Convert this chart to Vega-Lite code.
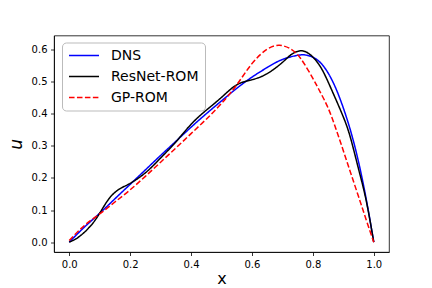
{
  "$schema": "https://vega.github.io/schema/vega-lite/v6.json",
  "autosize": "none",
  "padding": {"left": 54, "top": 35.5, "right": 43, "bottom": 36},
  "width": 335,
  "height": 216.5,
  "background": "white",
  "config": {
    "view": {"stroke": "black", "strokeWidth": 0.8},
    "font": "DejaVu Sans",
    "axis": {
      "grid": false,
      "domainColor": "black",
      "domainWidth": 0.8,
      "tickColor": "black",
      "tickWidth": 0.8,
      "tickSize": 3.5,
      "labelPadding": 3.5,
      "labelFontSize": 10,
      "labelColor": "black",
      "labelFont": "DejaVu Sans",
      "titleFont": "DejaVu Sans",
      "titleFontSize": 16,
      "titleFontWeight": "normal",
      "titleColor": "black"
    }
  },
  "data": {
    "values": [
      {"series": "DNS", "x": 0.0, "u": 0.0},
      {"series": "DNS", "x": 0.05, "u": 0.047},
      {"series": "DNS", "x": 0.1, "u": 0.09},
      {"series": "DNS", "x": 0.15, "u": 0.135},
      {"series": "DNS", "x": 0.2, "u": 0.18},
      {"series": "DNS", "x": 0.25, "u": 0.225},
      {"series": "DNS", "x": 0.3, "u": 0.27},
      {"series": "DNS", "x": 0.35, "u": 0.314},
      {"series": "DNS", "x": 0.4, "u": 0.358},
      {"series": "DNS", "x": 0.45, "u": 0.40},
      {"series": "DNS", "x": 0.5, "u": 0.44},
      {"series": "DNS", "x": 0.55, "u": 0.479},
      {"series": "DNS", "x": 0.6, "u": 0.514},
      {"series": "DNS", "x": 0.65, "u": 0.544},
      {"series": "DNS", "x": 0.7, "u": 0.569},
      {"series": "DNS", "x": 0.75, "u": 0.582},
      {"series": "DNS", "x": 0.775, "u": 0.583},
      {"series": "DNS", "x": 0.8, "u": 0.576},
      {"series": "DNS", "x": 0.825, "u": 0.559},
      {"series": "DNS", "x": 0.85, "u": 0.527},
      {"series": "DNS", "x": 0.875, "u": 0.48},
      {"series": "DNS", "x": 0.9, "u": 0.418},
      {"series": "DNS", "x": 0.925, "u": 0.343},
      {"series": "DNS", "x": 0.95, "u": 0.25},
      {"series": "DNS", "x": 0.975, "u": 0.135},
      {"series": "DNS", "x": 1.0, "u": 0.0},
      {"series": "ResNet-ROM", "x": 0.0, "u": 0.0},
      {"series": "ResNet-ROM", "x": 0.025, "u": 0.012},
      {"series": "ResNet-ROM", "x": 0.05, "u": 0.031},
      {"series": "ResNet-ROM", "x": 0.075, "u": 0.056},
      {"series": "ResNet-ROM", "x": 0.1, "u": 0.09},
      {"series": "ResNet-ROM", "x": 0.125, "u": 0.128},
      {"series": "ResNet-ROM", "x": 0.15, "u": 0.155},
      {"series": "ResNet-ROM", "x": 0.175, "u": 0.171},
      {"series": "ResNet-ROM", "x": 0.2, "u": 0.183},
      {"series": "ResNet-ROM", "x": 0.25, "u": 0.216},
      {"series": "ResNet-ROM", "x": 0.3, "u": 0.262},
      {"series": "ResNet-ROM", "x": 0.35, "u": 0.312},
      {"series": "ResNet-ROM", "x": 0.4, "u": 0.367},
      {"series": "ResNet-ROM", "x": 0.45, "u": 0.411},
      {"series": "ResNet-ROM", "x": 0.5, "u": 0.451},
      {"series": "ResNet-ROM", "x": 0.55, "u": 0.49},
      {"series": "ResNet-ROM", "x": 0.6, "u": 0.506},
      {"series": "ResNet-ROM", "x": 0.65, "u": 0.525},
      {"series": "ResNet-ROM", "x": 0.7, "u": 0.56},
      {"series": "ResNet-ROM", "x": 0.73, "u": 0.585},
      {"series": "ResNet-ROM", "x": 0.76, "u": 0.596},
      {"series": "ResNet-ROM", "x": 0.79, "u": 0.585},
      {"series": "ResNet-ROM", "x": 0.825, "u": 0.546},
      {"series": "ResNet-ROM", "x": 0.86, "u": 0.478},
      {"series": "ResNet-ROM", "x": 0.9, "u": 0.39},
      {"series": "ResNet-ROM", "x": 0.925, "u": 0.32},
      {"series": "ResNet-ROM", "x": 0.95, "u": 0.228},
      {"series": "ResNet-ROM", "x": 0.975, "u": 0.13},
      {"series": "ResNet-ROM", "x": 1.0, "u": 0.0},
      {"series": "GP-ROM", "x": 0.0, "u": 0.005},
      {"series": "GP-ROM", "x": 0.05, "u": 0.052},
      {"series": "GP-ROM", "x": 0.1, "u": 0.088},
      {"series": "GP-ROM", "x": 0.15, "u": 0.125},
      {"series": "GP-ROM", "x": 0.2, "u": 0.163},
      {"series": "GP-ROM", "x": 0.25, "u": 0.205},
      {"series": "GP-ROM", "x": 0.3, "u": 0.249},
      {"series": "GP-ROM", "x": 0.35, "u": 0.293},
      {"series": "GP-ROM", "x": 0.4, "u": 0.338},
      {"series": "GP-ROM", "x": 0.45, "u": 0.383},
      {"series": "GP-ROM", "x": 0.5, "u": 0.432},
      {"series": "GP-ROM", "x": 0.55, "u": 0.49},
      {"series": "GP-ROM", "x": 0.6, "u": 0.556},
      {"series": "GP-ROM", "x": 0.65, "u": 0.601},
      {"series": "GP-ROM", "x": 0.69, "u": 0.613},
      {"series": "GP-ROM", "x": 0.725, "u": 0.603},
      {"series": "GP-ROM", "x": 0.76, "u": 0.572},
      {"series": "GP-ROM", "x": 0.8, "u": 0.51},
      {"series": "GP-ROM", "x": 0.825, "u": 0.466},
      {"series": "GP-ROM", "x": 0.85, "u": 0.418},
      {"series": "GP-ROM", "x": 0.875, "u": 0.355},
      {"series": "GP-ROM", "x": 0.9, "u": 0.285},
      {"series": "GP-ROM", "x": 0.925, "u": 0.213},
      {"series": "GP-ROM", "x": 0.95, "u": 0.142},
      {"series": "GP-ROM", "x": 0.975, "u": 0.07},
      {"series": "GP-ROM", "x": 1.0, "u": 0.0}
    ]
  },
  "mark": {"type": "line", "strokeWidth": 1.5, "interpolate": "natural", "clip": true},
  "encoding": {
    "x": {
      "field": "x", "type": "quantitative",
      "scale": {"domain": [-0.05, 1.05], "nice": false, "zero": false},
      "axis": {"values": [0, 0.2, 0.4, 0.6, 0.8, 1.0], "format": ".1f", "title": "x", "titlePadding": 1}
    },
    "y": {
      "field": "u", "type": "quantitative",
      "scale": {"domain": [-0.0307, 0.6437], "nice": false, "zero": false},
      "axis": {"values": [0, 0.1, 0.2, 0.3, 0.4, 0.5, 0.6], "format": ".1f", "title": "u", "titleFontStyle": "italic", "titleFontSize": 17, "titlePadding": 6}
    },
    "color": {
      "field": "series", "type": "nominal",
      "scale": {"domain": ["DNS", "ResNet-ROM", "GP-ROM"], "range": ["#0000ff", "#000000", "#ff0000"]},
      "legend": {
        "title": null,
        "orient": "none",
        "legendX": 8,
        "legendY": 7,
        "symbolType": "stroke",
        "symbolSize": 900,
        "symbolStrokeWidth": 1.5,
        "labelFontSize": 14,
        "labelFont": "DejaVu Sans",
        "labelColor": "black",
        "labelOffset": 11,
        "clipHeight": 14,
        "rowPadding": 7,
        "padding": 6,
        "fillColor": "white",
        "strokeColor": "#bbbbbb",
        "cornerRadius": 4
      }
    },
    "strokeDash": {
      "field": "series", "type": "nominal",
      "scale": {"domain": ["DNS", "ResNet-ROM", "GP-ROM"], "range": [[1, 0], [1, 0], [5.55, 2.4]]},
      "legend": null
    }
  }
}
